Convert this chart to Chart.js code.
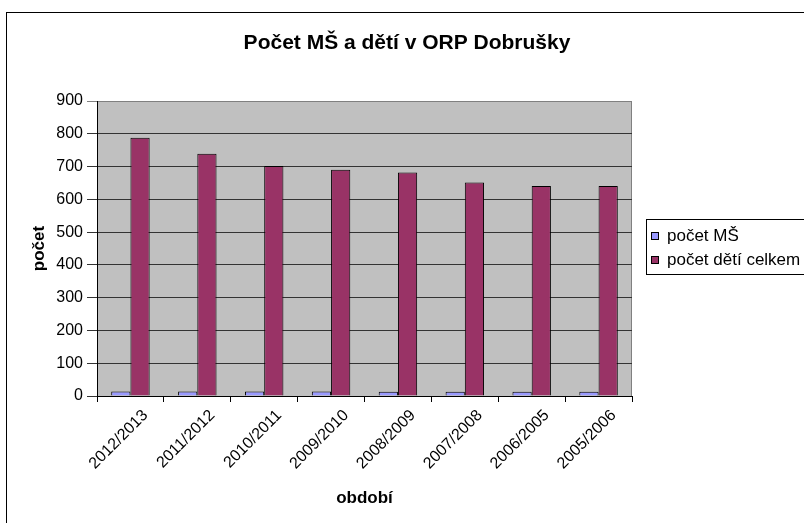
<!DOCTYPE html>
<html>
<head>
<meta charset="utf-8">
<script src="https://cdn.jsdelivr.net/npm/chart.js@4/dist/chart.umd.min.js"></script>
<style>
  html, body { margin: 0; padding: 0; background: #fff; }
  #wrap { width: 804px; height: 523px; position: relative; }
</style>
</head>
<body>
<div id="wrap"><canvas id="chart" width="804" height="523"></canvas></div>
<script>
// data
const periods = ["2012/2013", "2011/2012", "2010/2011", "2009/2010", "2008/2009", "2007/2008", "2006/2005", "2005/2006"];
const pocetMS = [14, 14, 14, 14, 13, 13, 13, 13];
const pocetDeti = [788, 739, 702, 690, 682, 651, 641, 641];
const yTicks = [0, 100, 200, 300, 400, 500, 600, 700, 800, 900];

const titleText = "Počet MŠ a dětí v ORP Dobrušky";
const seriesNames = ["počet MŠ", "počet dětí celkem"];
const seriesColors = ["#9999FF", "#993366"];

const font = "'Liberation Sans', Arial, sans-serif";

// grey plot area, outer frame, title and boxed legend
let decor = {
  id: "decor",
  beforeDraw(chart) {
    let c = chart.ctx, a = chart.chartArea;
    c.save();
    c.fillStyle = "#fff";
    c.fillRect(0, 0, chart.width, chart.height);
    c.strokeStyle = "#000";
    c.lineWidth = 1;
    c.strokeRect(6.5, 12.5, chart.width + 20, chart.height + 20);
    c.fillStyle = "#C0C0C0";
    c.fillRect(a.left, a.top, a.right - a.left, a.bottom - a.top);
    c.strokeStyle = "#808080";
    c.strokeRect(a.left + 0.5, a.top + 0.5, a.right - a.left - 1, a.bottom - a.top);
    c.restore();
  },
  afterDraw(chart) {
    let c = chart.ctx;
    c.save();
    c.fillStyle = "#000";
    c.font = "bold 21px " + font;
    c.textAlign = "center";
    c.textBaseline = "middle";
    c.fillText(titleText, 407, 43);

    // legend
    c.fillStyle = "#fff";
    c.fillRect(646, 219, 170, 55);
    c.strokeStyle = "#000";
    c.lineWidth = 1;
    c.strokeRect(646.5, 219.5, 170, 55);
    c.font = "17px " + font;
    c.textAlign = "left";
    let ys = [236, 260];
    for (let i = 0; i < seriesNames.length; i++) {
      c.fillStyle = seriesColors[i];
      c.fillRect(651, ys[i] - 4, 8, 8);
      c.strokeStyle = "#000";
      c.strokeRect(651.5, ys[i] - 3.5, 7, 7);
      c.fillStyle = "#000";
      c.fillText(seriesNames[i], 667, ys[i]);
    }
    c.restore();
  }
};

let ctx = document.getElementById("chart");
let chart = new Chart(ctx, {
  type: "bar",
  data: {
    labels: periods,
    datasets: [
      {
        label: seriesNames[0],
        data: pocetMS,
        backgroundColor: seriesColors[0],
        borderColor: "#000",
        borderWidth: 1,
        categoryPercentage: 0.575,
        barPercentage: 1
      },
      {
        label: seriesNames[1],
        data: pocetDeti,
        backgroundColor: seriesColors[1],
        borderColor: "#000",
        borderWidth: 1,
        categoryPercentage: 0.575,
        barPercentage: 1
      }
    ]
  },
  options: {
    responsive: false,
    animation: false,
    layout: { padding: { top: 101, right: 172, left: 0, bottom: 0 } },
    plugins: {
      legend: { display: false },
      title: { display: false },
      tooltip: { enabled: false }
    },
    scales: {
      x: {
        afterFit: function(s) { s.height = 127; },
        grid: { drawOnChartArea: false, drawTicks: true, tickLength: 6, color: "#000", offset: true },
        border: { color: "#000", width: 1 },
        ticks: {
          color: "#000",
          font: { family: font, size: 16 },
          minRotation: 45,
          maxRotation: 45,
          autoSkip: false,
          padding: 4,
          labelOffset: 15
        },
        title: {
          display: true,
          text: "období",
          color: "#000",
          font: { family: font, size: 17, weight: "bold" },
          padding: { top: 0, bottom: 14 }
        }
      },
      y: {
        min: 0,
        max: 900,
        afterFit: function(s) { s.width = 97; },
        afterBuildTicks: function(s) { s.ticks = yTicks.map(v => ({ value: v })); },
        grid: {
          color: function(c) { return c.tick && c.tick.value === 900 ? "#808080" : "#333"; },
          tickLength: 10,
          lineWidth: 1
        },
        border: { color: "#000", width: 1 },
        ticks: {
          color: "#000",
          font: { family: font, size: 16 },
          padding: 4
        },
        title: {
          display: true,
          text: "počet",
          color: "#000",
          font: { family: font, size: 17, weight: "bold" },
          padding: { top: 29, bottom: 0 }
        }
      }
    }
  },
  plugins: [decor]
});
</script>
</body>
</html>
